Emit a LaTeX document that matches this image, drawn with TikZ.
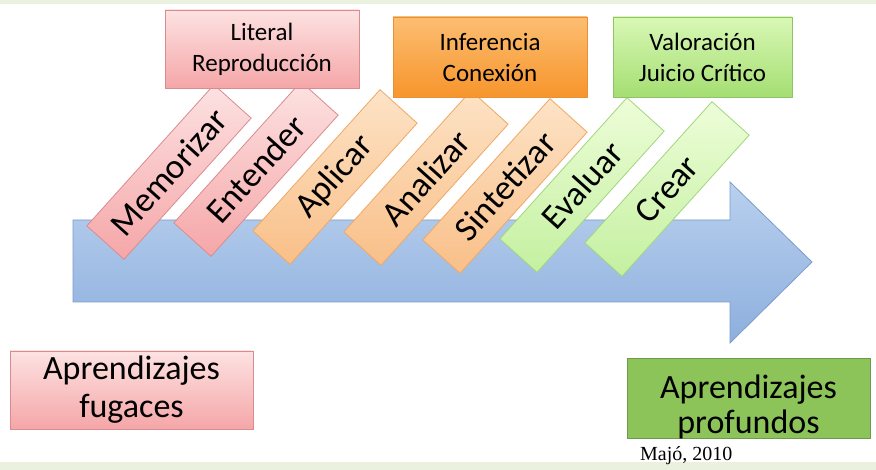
\documentclass[tikz,border=0pt]{standalone}
\usepackage{fontspec}
\setmainfont{Carlito}
\newfontfamily\majfont{Liberation Serif}
\definecolor{pinkT}{HTML}{FDE2E2}
\definecolor{pinkB}{HTML}{F5A6A8}
\definecolor{pinkD}{HTML}{D98C8E}
\definecolor{orT}{HTML}{FDE3C6}
\definecolor{orB}{HTML}{F9BF88}
\definecolor{orD}{HTML}{EFA865}
\definecolor{grT}{HTML}{EDFDD8}
\definecolor{grB}{HTML}{C4F0A0}
\definecolor{grD}{HTML}{A2D67E}
\definecolor{infT}{HTML}{FCBE72}
\definecolor{infB}{HTML}{F7952C}
\definecolor{infD}{HTML}{E79038}
\definecolor{valT}{HTML}{D9F8B5}
\definecolor{valB}{HTML}{A4DE72}
\definecolor{valD}{HTML}{8FC46A}
\definecolor{arT}{HTML}{B9D0EE}
\definecolor{arB}{HTML}{8DAFDD}
\definecolor{arD}{HTML}{7A9DCB}
\definecolor{deepG}{HTML}{8CC45A}
\definecolor{deepD}{HTML}{6E9A4E}
\definecolor{band}{HTML}{EBF1DF}
\tikzset{
  diagbox/.style={draw, line width=0.8pt, rotate=48, minimum width=190pt, minimum height=50pt,
    inner sep=0pt, font=\fontsize{35}{40}\selectfont},
  pinkbox/.style={top color=pinkT, bottom color=pinkB, draw=pinkD},
  orbox/.style={top color=orT, bottom color=orB, draw=orD},
  grbox/.style={top color=grT, bottom color=grB, draw=grD},
  topbox/.style={draw, line width=0.8pt, inner sep=0pt, align=center,
    font=\fontsize{25}{31}\selectfont},
  bigbox/.style={draw, line width=0.8pt, inner sep=0pt, align=center,
    font=\fontsize{34}{38}\selectfont}
}
\begin{document}
\begin{tikzpicture}[x=1pt,y=-1pt]
\useasboundingbox (0,0) rectangle (876,470);
\fill[white] (0,0) rectangle (876,470);
\fill[band] (0,0) rectangle (876,4);
\fill[band] (0,462) rectangle (876,470);
% blue arrow
\draw[line width=0.8pt, draw=arD, top color=arT, bottom color=arB]
  (73,220) -- (730,220) -- (730,182) -- (812,262) -- (730,343) -- (730,302) -- (73,302) -- cycle;
% diagonal boxes
\node[diagbox, pinkbox] (mem) at (169,172) {Memorizar};
\node[diagbox, pinkbox] (ent) at (256,169) {Entender};
\node[diagbox, orbox] (apl) at (335,177) {Aplicar};
\node[diagbox, orbox] (ana) at (426,178) {Analizar};
\node[diagbox, orbox] (sin) at (505,186) {Sintetizar};
\node[diagbox, grbox] (eva) at (582,185) {Evaluar};
\node[diagbox, grbox] (cre) at (667,189) {Crear};
% top boxes
\node[topbox, top color=pinkT, bottom color=pinkB, draw=pinkD, minimum width=194pt, minimum height=78pt] (lit) at (262,49) {Literal\\Reproducción};
\node[topbox, top color=infT, bottom color=infB, draw=infD, minimum width=194pt, minimum height=80pt] (inf) at (490,57) {Inferencia\\Conexión};
\node[topbox, top color=valT, bottom color=valB, draw=valD, minimum width=179pt, minimum height=80pt] (val) at (702.5,57) {Valoración\\Juicio Crítico};
% bottom boxes
\node[bigbox, top color=pinkT, bottom color=pinkB, draw=pinkD, minimum width=243pt, minimum height=78pt] (fug) at (131.5,390) {Aprendizajes\\fugaces};
\node[bigbox, fill=deepG, draw=deepD, minimum width=243pt, minimum height=80pt] (prof) at (748.5,398) {};
\node[font=\fontsize{34}{35}\selectfont, align=center, inner sep=0pt] (proftxt) at (748.5,407) {Aprendizajes\\profundos};
\node[font=\majfont\fontsize{20}{22}\selectfont, anchor=base west, inner sep=0pt] (maj) at (640,460) {Majó, 2010};
\end{tikzpicture}
\end{document}
